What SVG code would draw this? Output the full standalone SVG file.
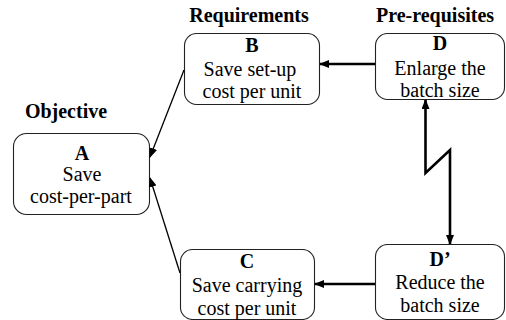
<svg xmlns="http://www.w3.org/2000/svg" width="506" height="320" viewBox="0 0 506 320">
<style>
.box{fill:#fff;stroke:#222;stroke-width:1.1}
text{font-family:"Liberation Serif","Times New Roman",serif;font-size:20px;fill:#000;text-anchor:middle}
.b{font-weight:bold}
.thin{fill:none;stroke:#000;stroke-width:1.3}
.thick{fill:none;stroke:#000;stroke-width:2.6}
</style>
<defs>
<marker id="ah" markerWidth="10" markerHeight="8" refX="9" refY="4" orient="auto" markerUnits="userSpaceOnUse"><path d="M0,0 L10,4 L0,8 Z" fill="#000"/></marker>
<marker id="ahs" markerWidth="10" markerHeight="8" refX="9" refY="4" orient="auto-start-reverse" markerUnits="userSpaceOnUse"><path d="M0,0 L10,4 L0,8 Z" fill="#000"/></marker>
</defs>
<text class="b" x="249" y="22">Requirements</text>
<text class="b" x="435" y="22">Pre-requisites</text>
<text class="b" x="66" y="118" text-anchor="middle">Objective</text>
<g id="nodeA">
<rect class="box" x="13.5" y="133.5" width="136" height="81" rx="13"/>
<text class="b" x="82" y="160">A</text>
<text x="82" y="181">Save</text>
<text x="81" y="203">cost-per-part</text>
</g>
<g id="nodeB">
<rect class="box" x="184.5" y="33.5" width="135" height="71" rx="12"/>
<text class="b" x="252" y="52">B</text>
<text x="250" y="76">Save set-up</text>
<text x="252" y="98">cost per unit</text>
</g>
<g id="nodeC">
<rect class="box" x="180.5" y="249.5" width="134" height="70" rx="12"/>
<text class="b" x="247" y="268">C</text>
<text x="247" y="292">Save carrying</text>
<text x="247" y="315">cost per unit</text>
</g>
<g id="nodeD">
<rect class="box" x="375.5" y="33.5" width="129" height="66" rx="12"/>
<text class="b" x="440" y="50">D</text>
<text x="440" y="75">Enlarge the</text>
<text x="440" y="97">batch size</text>
</g>
<g id="nodeDp">
<rect class="box" x="375.5" y="244.5" width="129" height="75" rx="12"/>
<text class="b" x="440" y="266">D’</text>
<text x="440" y="289">Reduce the</text>
<text x="440" y="312">batch size</text>
</g>
<g id="connectors">
<line class="thick" x1="375" y1="64" x2="320" y2="64" marker-end="url(#ah)"/>
<line class="thick" x1="375" y1="284" x2="315" y2="284" marker-end="url(#ah)"/>
<line class="thin" x1="184" y1="70" x2="150" y2="157" marker-end="url(#ah)"/>
<line class="thin" x1="180" y1="273" x2="150" y2="178" marker-end="url(#ah)"/>
<path class="thick" d="M425.5,100 L425.5,173 L450,150 L450,244" stroke-linejoin="miter" marker-start="url(#ahs)" marker-end="url(#ah)"/>
</g>
</svg>
